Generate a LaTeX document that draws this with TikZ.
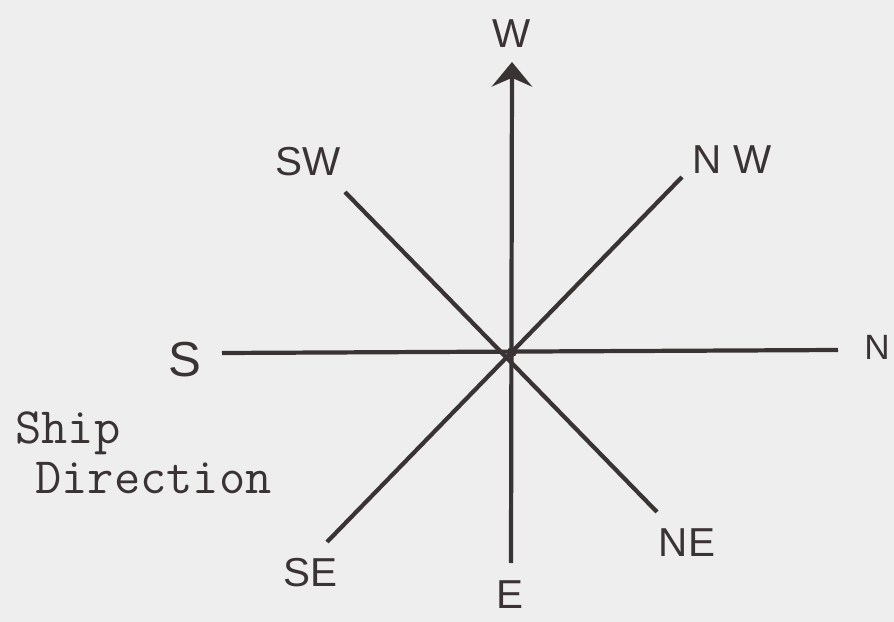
\documentclass[tikz,border=0pt]{standalone}
\usepackage{fontspec}
\setmainfont{Liberation Sans}
\usetikzlibrary{arrows.meta}
\definecolor{paper}{HTML}{EFEEEE}
\definecolor{ink}{HTML}{3A3333}
\begin{document}
\begin{tikzpicture}[
    x=0.02cm, y=-0.02cm,
    pen/.style = {draw=ink, line width=2.4pt},
    dirlabel/.style = {text=ink, font=\fontsize{23}{23}\selectfont, inner sep=0pt},
    shiptext/.style = {text=ink, font=\ttfamily\fontsize{29}{29}\selectfont, inner sep=0pt, anchor=base west}
]
\fill[paper] (0,0) rectangle (894,622);
\useasboundingbox (0,0) rectangle (894,622);
\coordinate (c) at (512,352);
\coordinate (endW) at (512,62);
\coordinate (endE) at (511,563);
\coordinate (endS) at (222,353);
\coordinate (endN) at (838,350);
\coordinate (endSW) at (345,192);
\coordinate (endNE) at (657,512);
\coordinate (endNW) at (682,177);
\coordinate (endSE) at (327,542);
\node[dirlabel] (w) at (512,34) {W};
\node[dirlabel] (sw) at (308,162) {SW};
\node[dirlabel] (nw) at (732,160) {N W};
\node[dirlabel, font=\fontsize{28}{28}\selectfont] (s) at (185,360) {S};
\node[dirlabel, font=\fontsize{20}{20}\selectfont] (n) at (877,347) {N};
\node[dirlabel] (se) at (310,573) {SE};
\node[dirlabel] (e) at (510,595) {E};
\node[dirlabel] (ne) at (687,543) {NE};
\node[shiptext] (ship) at (15,443) {Ship};
\node[shiptext] (dir) at (35,493) {Direction};
\draw[pen, -{Stealth[length=14pt, width=23pt, inset=5pt]}] (endE) -- (endW);
\draw[pen] (endS) -- (endN);
\draw[pen] (endSW) -- (endNE);
\draw[pen] (endNW) -- (endSE);
\fill[ink] (c) circle (5);
\end{tikzpicture}
\end{document}
